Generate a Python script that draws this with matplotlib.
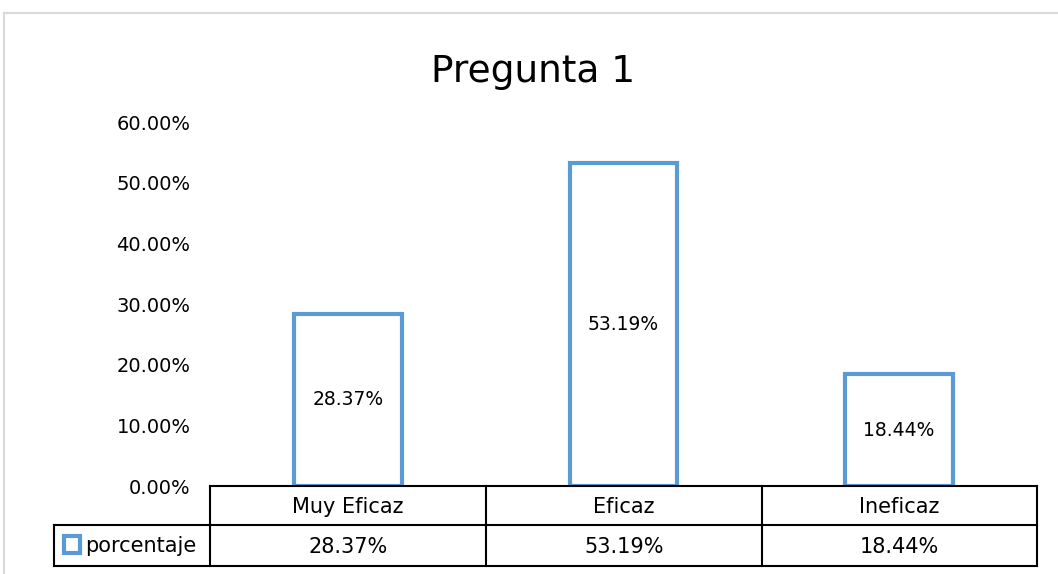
import matplotlib.pyplot as plt
from matplotlib.lines import Line2D
from matplotlib.patches import Rectangle

plt.rcParams['font.family'] = ['DejaVu Sans']

categories = ['Muy Eficaz', 'Eficaz', 'Ineficaz']
values = [0.2837, 0.5319, 0.1844]
labels = ['28.37%', '53.19%', '18.44%']
series_name = 'porcentaje'
title = 'Pregunta 1'
yticks = [0, 0.1, 0.2, 0.3, 0.4, 0.5, 0.6]

BLUE = '#5B9BD5'
W, H = 1058, 574

fig = plt.figure(figsize=(W / 100, H / 100), dpi=100)

def fx(px):
    return px / W

def fy(py):
    return 1 - py / H

# outer chart frame (light gray)
fig.add_artist(Line2D([fx(4), 1], [fy(13), fy(13)], color='#D9D9D9', lw=1.5))
fig.add_artist(Line2D([fx(4), fx(4)], [fy(13), 0], color='#D9D9D9', lw=1.5))

ax = fig.add_axes([fx(210), fy(486), fx(1037) - fx(210), fy(122) - fy(486)])
x = range(len(categories))
ax.bar(x, values, width=0.39, facecolor='white', edgecolor=BLUE, linewidth=3)
for i, v in enumerate(values):
    ax.text(i, v / 2, labels[i], ha='center', va='center', fontsize=13.5)

ax.set_xlim(-0.5, 2.5)
ax.set_ylim(0, 0.6)
ax.set_yticks(yticks)
ax.set_yticklabels([f'{t * 100:.2f}%' for t in yticks], fontsize=14)
ax.tick_params(axis='y', length=0, pad=14)
ax.set_xticks([])
for s in ax.spines.values():
    s.set_visible(False)

fig.text(fx(533), fy(72), title, ha='center', va='center', fontsize=27)

# data table under the axis
lc = 'black'
lw = 1.5
col_edges = [210, 486, 762, 1037]
fig.add_artist(Line2D([fx(210), fx(1037)], [fy(486), fy(486)], color=lc, lw=lw))
fig.add_artist(Line2D([fx(54), fx(1037)], [fy(525), fy(525)], color=lc, lw=lw))
fig.add_artist(Line2D([fx(54), fx(1037)], [fy(566), fy(566)], color=lc, lw=lw))
fig.add_artist(Line2D([fx(54), fx(54)], [fy(525), fy(566)], color=lc, lw=lw))
for c in col_edges:
    fig.add_artist(Line2D([fx(c), fx(c)], [fy(486), fy(566)], color=lc, lw=lw))

for i, cat in enumerate(categories):
    cx = (col_edges[i] + col_edges[i + 1]) / 2
    fig.text(fx(cx), fy(507), cat, ha='center', va='center', fontsize=15)
    fig.text(fx(cx), fy(547), labels[i], ha='center', va='center', fontsize=15)

fig.add_artist(Rectangle((fx(64), fy(553)), fx(16), fy(536) - fy(553),
                         facecolor='white', edgecolor=BLUE, lw=3))
fig.text(fx(85), fy(546), series_name, ha='left', va='center', fontsize=15)

fig.savefig('out.png', dpi=100)
